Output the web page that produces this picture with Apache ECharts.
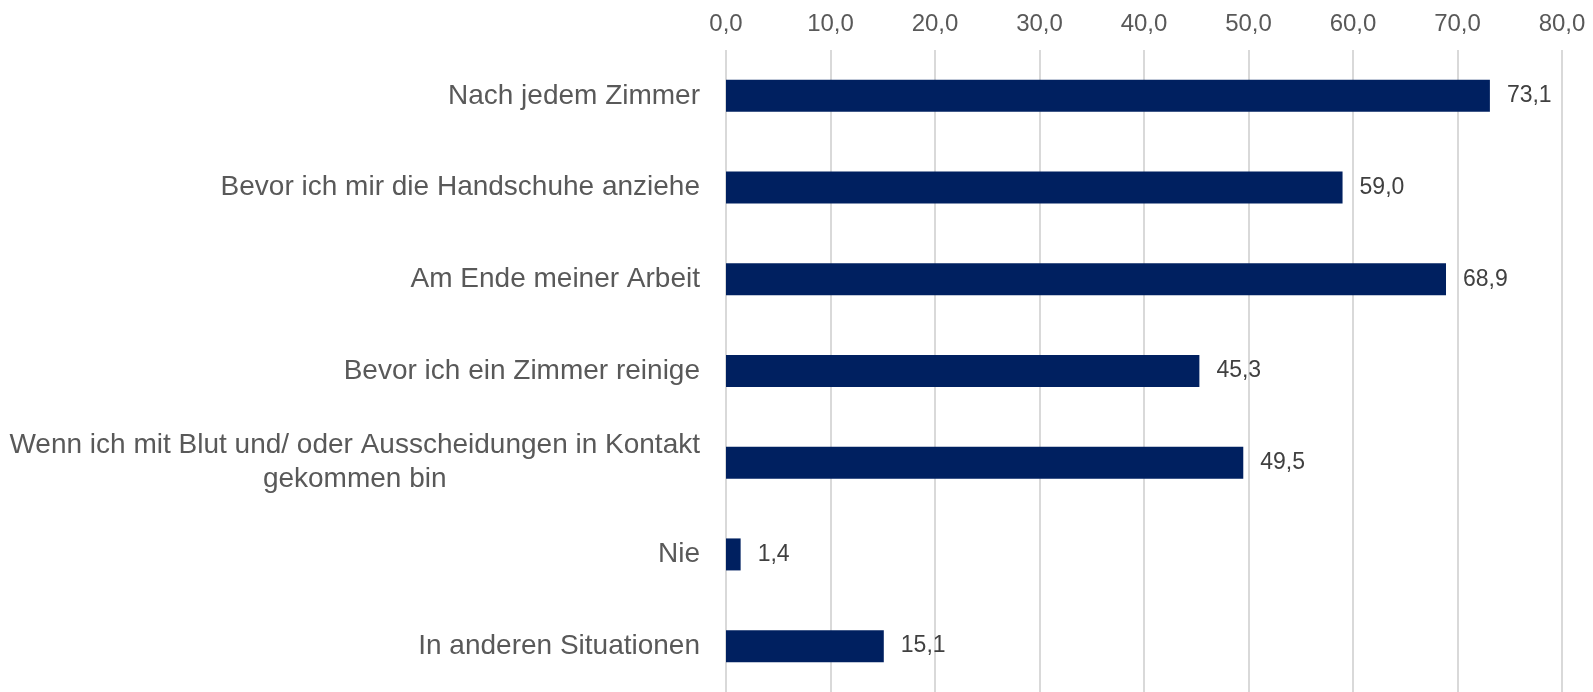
<!DOCTYPE html>
<html>
<head>
<meta charset="utf-8">
<script src="https://cdn.jsdelivr.net/npm/echarts@6/dist/echarts.min.js"></script>
<style>
  html, body { margin: 0; padding: 0; background: #ffffff; }
  #chart { width: 1593px; height: 692px; }
</style>
</head>
<body>
<div id="chart"></div>
<script>
// Antwortkategorien (von oben nach unten)
const categories = [
  'Nach jedem Zimmer',
  'Bevor ich mir die Handschuhe anziehe',
  'Am Ende meiner Arbeit',
  'Bevor ich ein Zimmer reinige',
  'Wenn ich mit Blut und/ oder Ausscheidungen in Kontakt\ngekommen bin',
  'Nie',
  'In anderen Situationen'
];

// Anteile in Prozent
const values = [73.1, 59.0, 68.9, 45.3, 49.5, 1.4, 15.1];

// Skala der Werteachse
const axisMin = 0;
const axisMax = 80;
const axisStep = 10;

const fmt = v => v.toFixed(1).replace('.', ',');

const chart = echarts.init(document.getElementById('chart'));
chart.setOption({
  animation: false,
  backgroundColor: '#ffffff',
  grid: { left: 726, right: 31, top: 50, height: 646, containLabel: false },
  xAxis: {
    type: 'value',
    position: 'top',
    min: axisMin,
    max: axisMax,
    interval: axisStep,
    axisLine: { show: false },
    axisTick: { show: false },
    splitLine: { show: true, lineStyle: { color: '#d9d9d9', width: 2 } },
    axisLabel: {
      formatter: v => fmt(v),
      color: '#595959',
      fontFamily: 'Liberation Sans, Arial, sans-serif',
      fontSize: 24,
      margin: 14
    }
  },
  yAxis: {
    type: 'category',
    data: categories,
    inverse: true,
    axisLine: { show: false },
    axisTick: { show: false },
    splitLine: { show: false },
    axisLabel: {
      margin: 26,
      formatter: v => v.split('\n').map(s => '{c|' + s + '}').join('\n'),
      rich: {
        c: {
          align: 'center',
          color: '#595959',
          fontFamily: 'Liberation Sans, Arial, sans-serif',
          fontSize: 28,
          lineHeight: 34
        }
      }
    }
  },
  series: [{
    type: 'bar',
    data: values,
    barWidth: 32,
    itemStyle: { color: '#002060' },
    label: {
      show: true,
      position: 'right',
      distance: 17,
      formatter: p => fmt(p.value),
      color: '#404040',
      fontFamily: 'Liberation Sans, Arial, sans-serif',
      fontSize: 23
    }
  }]
});
</script>
</body>
</html>
